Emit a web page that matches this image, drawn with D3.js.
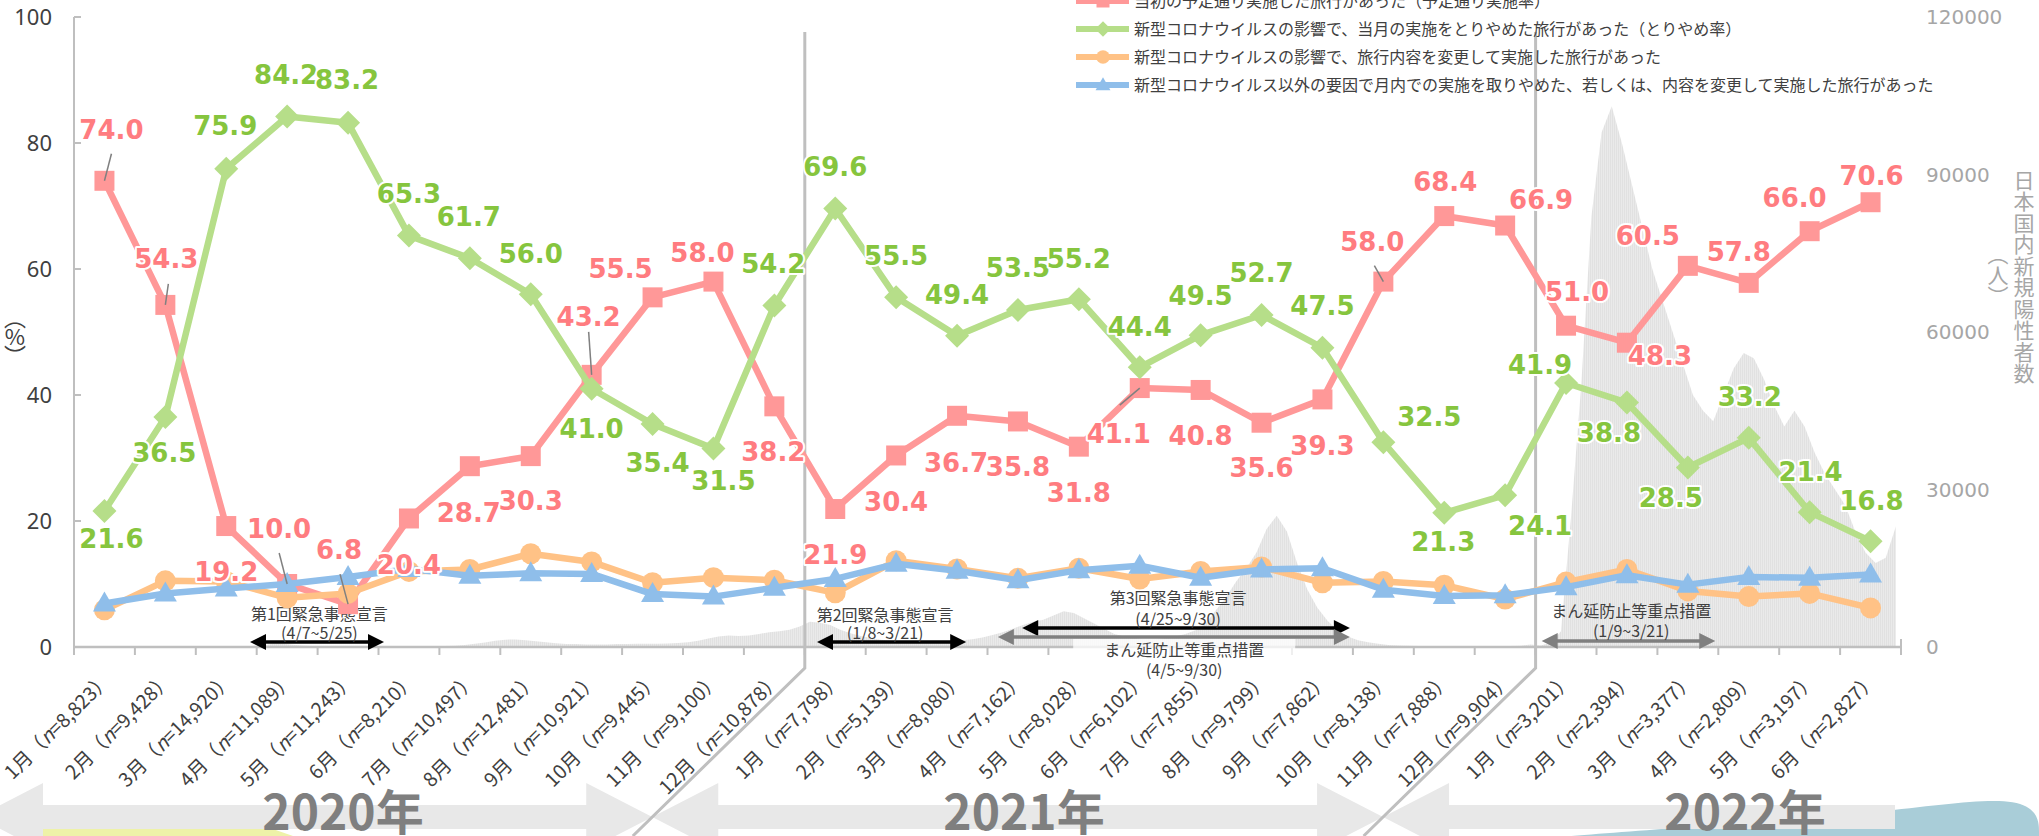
<!DOCTYPE html>
<html><head><meta charset="utf-8">
<script src="https://cdn.jsdelivr.net/npm/d3@7"></script>
<style>
html,body{margin:0;padding:0;background:#fff;overflow:hidden}
svg{display:block}
</style></head><body>
<svg id="c" width="2039" height="836"></svg>
<script>
// ---------------- DATA ----------------
const years = ["2020年", "2021年", "2022年"];
const months = ["1月","2月","3月","4月","5月","6月","7月","8月","9月","10月","11月","12月",
                "1月","2月","3月","4月","5月","6月","7月","8月","9月","10月","11月","12月",
                "1月","2月","3月","4月","5月","6月"];
const sampleN = ["8,823","9,428","14,920","11,089","11,243","8,210","10,497","12,481","10,921","9,445","9,100","10,878",
                 "7,798","5,139","8,080","7,162","8,028","6,102","7,855","9,799","7,862","8,138","7,888","9,904",
                 "3,201","2,394","3,377","2,809","3,197","2,827"];
// 当初の予定通り実施した旅行があった（予定通り実施率）
const planned = [74.0,54.3,19.2,10.0,6.8,20.4,28.7,30.3,43.2,55.5,58.0,38.2,
                 21.9,30.4,36.7,35.8,31.8,41.1,40.8,35.6,39.3,58.0,68.4,66.9,
                 51.0,48.3,60.5,57.8,66.0,70.6];
// 新型コロナウイルスの影響で、当月の実施をとりやめた旅行があった（とりやめ率）
const cancelled = [21.6,36.5,75.9,84.2,83.2,65.3,61.7,56.0,41.0,35.4,31.5,54.2,
                   69.6,55.5,49.4,53.5,55.2,44.4,49.5,52.7,47.5,32.5,21.3,24.1,
                   41.9,38.8,28.5,33.2,21.4,16.8];
// 新型コロナウイルスの影響で、旅行内容を変更して実施した旅行があった
const changed = [5.9,10.5,10.4,7.8,8.5,12.0,12.3,14.8,13.5,10.2,11.0,10.6,
                 8.6,13.7,12.4,10.9,12.5,10.8,12.0,12.7,10.2,10.4,9.8,7.6,
                 10.3,12.3,8.9,8.0,8.5,6.2];
// 新型コロナウイルス以外の要因で…
const otherReason = [6.9,8.5,9.3,10.0,11.1,12.4,11.3,11.7,11.6,8.4,8.0,9.4,
                     10.8,13.2,12.1,10.6,12.2,12.9,11.0,12.3,12.5,9.1,8.1,8.2,
                     9.5,11.4,9.9,11.1,11.0,11.5];
// 日本国内新規陽性者数（人）: 6 readings per month
const cases2020 = [0,0,0,0,2,3, 5,5,10,15,20,15, 30,40,50,50,100,200, 300,550,620,450,300,200,
                   120,90,50,30,30,40, 40,40,50,60,90,110, 180,250,400,600,850,1200, 1400,1450,1300,1100,900,700,
                   550,550,500,480,500,550, 550,600,600,600,650,750, 900,1200,1600,2000,2200,2100, 2200,2500,2800,3000,3300,3900];
const cases2021 = [4800,4600,4200,3300,2600,2100, 1700,1400,1200,1000,900,900, 1000,1100,1200,1300,1500,1800,
                   2300,2800,3500,4200,4800,5200, 6000,6800,6500,5500,4500,3500, 2500,2000,1700,1500,1500,1700,
                   2000,2500,3200,4500,7000,9500, 12500,15000,18000,22500,25000,22000, 16000,11000,7500,5000,3200,2000,
                   1300,900,600,400,300,250, 200,170,140,120,110,110, 120,130,150,180,250,500];
const cases2022 = [300,800,3000,25000,50000,82000, 98000,103000,96000,88000,80000,72000,
                   66000,60000,54000,48000,45000,43000, 48000,53000,56000,55000,51000,46000,
                   42000,45000,42000,37000,33000,30000, 27000,22000,18000,16000,17000,23000];
const leftTicks = [0,20,40,60,80,100];
const rightTicks = [0,30000,60000,90000,120000];
const seriesNames = [
  "当初の予定通り実施した旅行があった（予定通り実施率）",
  "新型コロナウイルスの影響で、当月の実施をとりやめた旅行があった（とりやめ率）",
  "新型コロナウイルスの影響で、旅行内容を変更して実施した旅行があった",
  "新型コロナウイルス以外の要因で月内での実施を取りやめた、若しくは、内容を変更して実施した旅行があった"
];
const periodTitles = ["第1回緊急事態宣言","第2回緊急事態宣言","第3回緊急事態宣言","まん延防止等重点措置","まん延防止等重点措置"];
const periodDates = ["(4/7~5/25)","(1/8~3/21)","(4/25~9/30)","(4/5~9/30)","(1/9~3/21)"];

// ---------------- LAYOUT ----------------
const W = 2039, H = 836;
const X0 = 74, X1 = 1901, Y0 = 647, Y1 = 17;
const svg = d3.select("#c");
const x = d3.scaleBand().domain(d3.range(months.length)).range([X0, X1]);
const bw = x.bandwidth();
const cx = i => x(i) + bw / 2;
const fx = m => X0 + m * bw;            // fractional month position
const y = d3.scaleLinear().domain([0, 100]).range([Y0, Y1]);
const y2 = d3.scaleLinear().domain([0, 120000]).range([Y0, Y1]);

const JP = "'Noto Sans CJK JP','Noto Sans',sans-serif";
const LBL = "'DejaVu Sans',Verdana,sans-serif";
const txtCol = "#404040";

// daily-bar texture for the cases area
const defs = svg.append("defs");
const pat = defs.append("pattern").attr("id", "daily").attr("patternUnits", "userSpaceOnUse")
  .attr("width", 2).attr("height", 8);
pat.append("rect").attr("width", 2).attr("height", 8).attr("fill", "#F1F1F1");
pat.append("rect").attr("width", 1.4).attr("height", 8).attr("fill", "#E1E1E1");

// --- decorative bottom shapes ---
svg.append("path").attr("fill", "#A9CDD8")
  .attr("d", d3.line().curve(d3.curveBasis)([[1520,840],[1700,826],[1880,814],[2039,790],[2039,840]]) + "Z");
svg.append("path").attr("fill", "#EEF2A8")
  .attr("d", "M42,827 L267,827 L293,836 L42,836 Z");

// --- year arrows ---
const yearArrow = svg.append("g").attr("fill", "#E8E8E8");
const AY = 817, BH = 12, HH = 34, HL = 66;
function dblArrow(xl, xr, leftHead, rightHead) {
  let p = [];
  if (leftHead) p.push([xl, AY], [xl + HL, AY - HH], [xl + HL, AY - BH]); else p.push([xl, AY - BH]);
  if (rightHead) p.push([xr - HL, AY - BH], [xr - HL, AY - HH], [xr, AY], [xr - HL, AY + HH], [xr - HL, AY + BH]);
  else p.push([xr, AY - BH], [xr, AY + BH]);
  if (leftHead) p.push([xl + HL, AY + BH], [xl + HL, AY + HH]); else p.push([xl, AY + BH]);
  yearArrow.append("path").attr("d", "M" + p.join("L") + "Z");
}
const sepX = [x(12), x(24)];
const diagDX = -172;
const tipX = sepX.map(s => s + diagDX * (AY - 668) / (H - 668));
dblArrow(-23, tipX[0], true, true);
dblArrow(tipX[0], tipX[1], true, true);
dblArrow(tipX[1], 1895, true, false);

// --- gray cases area ---
const cases = cases2020.concat(cases2021, cases2022);
const per = 6;
const caseX = k => x(Math.floor(k / per)) + ((k % per) + 0.5) / per * bw;
svg.append("path").datum(cases).attr("fill", "url(#daily)")
  .attr("d", d3.area().x((d, k) => caseX(k)).y0(Y0).y1(d => y2(d)));

// --- year separators ---
sepX.forEach(s => {
  svg.append("path").attr("fill", "none").attr("stroke", "#BFBFBF").attr("stroke-width", 3)
    .attr("d", `M${s},32 L${s},668 L${s + diagDX},${H}`);
});

// --- year text ---
const yearCX = [343, 1024, 1745];
years.forEach((t, k) => svg.append("text").attr("x", yearCX[k]).attr("y", 830)
  .attr("text-anchor", "middle").attr("font-family", JP).attr("font-weight", 700)
  .attr("font-size", 48).attr("fill", "#7F7F7F").text(t));

// --- axes ---
const axisCol = "#BFBFBF";
svg.append("line").attr("x1", X0).attr("x2", X1 + 1).attr("y1", Y0).attr("y2", Y0)
  .attr("stroke", axisCol).attr("stroke-width", 2.5);
d3.range(months.length + 1).forEach(i => {
  const xx = i < months.length ? x(i) : X1;
  svg.append("line").attr("x1", xx).attr("x2", xx).attr("y1", Y0).attr("y2", Y0 + 8)
    .attr("stroke", axisCol).attr("stroke-width", 2);
});
svg.append("line").attr("x1", X1).attr("x2", X1).attr("y1", Y0 - 8).attr("y2", Y0)
  .attr("stroke", axisCol).attr("stroke-width", 2);
svg.append("line").attr("x1", X0).attr("x2", X0).attr("y1", Y1).attr("y2", Y0)
  .attr("stroke", axisCol).attr("stroke-width", 2);
leftTicks.forEach(v => {
  svg.append("line").attr("x1", X0).attr("x2", X0 + 7).attr("y1", y(v)).attr("y2", y(v))
    .attr("stroke", axisCol).attr("stroke-width", 2);
  svg.append("text").attr("x", 52).attr("y", y(v)).attr("dy", "0.36em").attr("text-anchor", "end")
    .attr("font-family", "'Noto Sans',sans-serif").attr("font-size", 22).attr("fill", txtCol).text(v);
});
rightTicks.forEach(v => {
  svg.append("text").attr("x", 1926).attr("y", y2(v)).attr("dy", "0.36em").attr("text-anchor", "start")
    .attr("font-family", LBL).attr("font-size", 20).attr("fill", "#A6A6A6").text(v);
});
// vertical texts, one text element each
function vText(chars, xx, y0, step, size, col) {
  const t = svg.append("text").attr("text-anchor", "middle").attr("font-family", JP)
    .attr("font-size", size).attr("fill", col);
  Array.from(chars).forEach((c, k) => t.append("tspan").attr("x", xx).attr("y", y0 + k * step + size * 0.36).text(c));
}
vText("︵%︶", 15, 318, 19, 22, txtCol);
vText("日本国内新規陽性者数", 2024, 180, 21.5, 21, "#A6A6A6");
vText("︵人︶", 1998, 254, 21, 21, "#A6A6A6");

// x category labels
months.forEach((m, i) => {
  const t = svg.append("text").attr("transform", `translate(${cx(i) + 3},676) rotate(-45)`)
    .attr("dy", "0.36em").attr("text-anchor", "end").attr("font-family", JP)
    .attr("font-size", 19.5).attr("fill", txtCol);
  t.append("tspan").text(m + "（");
  t.append("tspan").attr("font-style", "italic").text("n");
  t.append("tspan").text("=" + sampleN[i] + "）");
});

// --- period annotations ---
const periods = [
  {t: 0, cxm: 4.03, b1: 620, b2: 639, a: [2.89, 5.09], ay: 642, col: "#000"},
  {t: 1, cxm: 13.32, b1: 621, b2: 639, a: [12.2, 14.65], ay: 642, col: "#000"},
  {t: 2, cxm: 18.13, b1: 604, b2: 625, a: [15.57, 20.95], ay: 628, col: "#000"},
  {t: 3, cxm: 18.23, b1: 656, b2: 676, a: [15.17, 20.95], ay: 637, col: "#7F7F7F", box: true},
  {t: 4, cxm: 25.57, b1: 617, b2: 637, a: [24.1, 26.95], ay: 641, col: "#7F7F7F"}
];
function hArrow(xa, xb, yy, col) {
  const L = 16, Hh = 8;
  svg.append("line").attr("x1", xa + L - 2).attr("x2", xb - L + 2).attr("y1", yy).attr("y2", yy)
    .attr("stroke", col).attr("stroke-width", 3.5);
  svg.append("path").attr("fill", col).attr("d", `M${xa},${yy}L${xa + L},${yy - Hh}L${xa + L},${yy + Hh}Z`);
  svg.append("path").attr("fill", col).attr("d", `M${xb},${yy}L${xb - L},${yy - Hh}L${xb - L},${yy + Hh}Z`);
}
periods.forEach(p => {
  const xc = fx(p.cxm);
  if (p.box) svg.append("rect").attr("x", xc - 111).attr("y", 639).attr("width", 222).attr("height", 20)
    .attr("fill", "#fff").attr("opacity", 0.75);
  hArrow(fx(p.a[0]), fx(p.a[1]), p.ay, p.col);
  svg.append("text").attr("x", xc).attr("y", p.b1).attr("text-anchor", "middle").attr("font-family", JP)
    .attr("font-size", 16).attr("fill", txtCol).text(periodTitles[p.t]);
  svg.append("text").attr("x", xc).attr("y", p.b2).attr("text-anchor", "middle").attr("font-family", JP)
    .attr("font-size", 16).attr("fill", txtCol).text(periodDates[p.t]);
});

// --- series ---
const markers = {
  square: s => `M${-10*s},${-10*s}h${20*s}v${20*s}h${-20*s}Z`,
  diamond: s => `M0,${-12*s}L${12*s},0L0,${12*s}L${-12*s},0Z`,
  circle: s => `M${-10.5*s},0a${10.5*s},${10.5*s} 0 1,0 ${21*s},0a${10.5*s},${10.5*s} 0 1,0 ${-21*s},0Z`,
  triangle: s => `M0,${-12*s}L${11.5*s},${8*s}L${-11.5*s},${8*s}Z`
};
const series = [
  {vals: planned, line: "#FF9898", lab: "#FF7C80", mk: "square"},
  {vals: cancelled, line: "#B6DE89", lab: "#86C53E", mk: "diamond"},
  {vals: changed, line: "#FFC286", lab: null, mk: "circle"},
  {vals: otherReason, line: "#8FBEEA", lab: null, mk: "triangle"}
];
const lineGen = d3.line().x((d, i) => cx(i)).y(d => y(d));
series.forEach(s => {
  svg.append("path").datum(s.vals).attr("fill", "none").attr("stroke", s.line)
    .attr("stroke-width", 6.5).attr("stroke-linejoin", "round").attr("d", lineGen);
  svg.append("g").selectAll("path").data(s.vals).join("path")
    .attr("transform", (d, i) => `translate(${cx(i)},${y(d)})`)
    .attr("d", markers[s.mk](1)).attr("fill", s.line);
});

// --- data labels (offsets from point, layout only) ---
const redOff = [[7,-51],[1,-46],[0,46],[-8,-55],[-9,-55],[0,46],[-1,46],[0,45],[-3,-58],[-32,-29],[-11,-29],[-1,45],
                [0,46],[0,46],[-1,47],[0,45],[0,46],[-21,46],[0,46],[0,45],[0,46],[-11,-40],[1,-34],[36,-26],
                [11,-34],[33,13],[-40,-30],[-10,-31],[-15,-34],[1,-27]];
const greenOff = [[7,28],[-1,36],[-1,-43],[-1,-42],[-1,-43],[0,-42],[-1,-42],[0,-41],[0,40],[5,39],[10,32],[-1,-42],
                  [0,-42],[0,-42],[0,-41],[0,-42],[0,-41],[0,-41],[0,-40],[0,-42],[0,-42],[46,-26],[-1,29],[35,30],
                  [-26,-18],[-18,30],[-17,30],[1,-41],[1,-41],[1,-41]];
const redLeaders = [[0,7,-27],[1,3,-21],[3,-8,-31],[4,-8,-30],[8,-3,-43],[17,-20,17],[21,-9,-16]];
redLeaders.forEach(([i, dx, dy]) => {
  svg.append("line").attr("x1", cx(i) + dx).attr("y1", y(planned[i]) + dy)
    .attr("x2", cx(i)).attr("y2", y(planned[i])).attr("stroke", "#808080").attr("stroke-width", 1.5);
});
function labels(vals, off, col) {
  svg.append("g").selectAll("text").data(vals).join("text")
    .attr("x", (d, i) => cx(i) + off[i][0]).attr("y", (d, i) => y(d) + off[i][1])
    .attr("dy", "0.36em").attr("text-anchor", "middle")
    .attr("font-family", LBL).attr("font-weight", "bold").attr("font-size", 26)
    .attr("fill", col).attr("stroke", "#fff").attr("stroke-width", 4).attr("stroke-linejoin", "round")
    .attr("paint-order", "stroke").text(d => d.toFixed(1));
}
labels(planned, redOff, series[0].lab);
labels(cancelled, greenOff, series[1].lab);

// --- legend ---
const legY = [1, 29, 57, 85];
series.forEach((s, k) => {
  const g = svg.append("g");
  g.append("line").attr("x1", 1076).attr("x2", 1129).attr("y1", legY[k]).attr("y2", legY[k])
    .attr("stroke", s.line).attr("stroke-width", 6);
  g.append("path").attr("transform", `translate(1103,${legY[k]})`).attr("d", markers[s.mk](0.65)).attr("fill", s.line);
  g.append("text").attr("x", 1134).attr("y", legY[k]).attr("dy", "0.36em").attr("font-family", JP)
    .attr("font-size", 16).attr("fill", txtCol).text(seriesNames[k]);
});
</script>
</body></html>
